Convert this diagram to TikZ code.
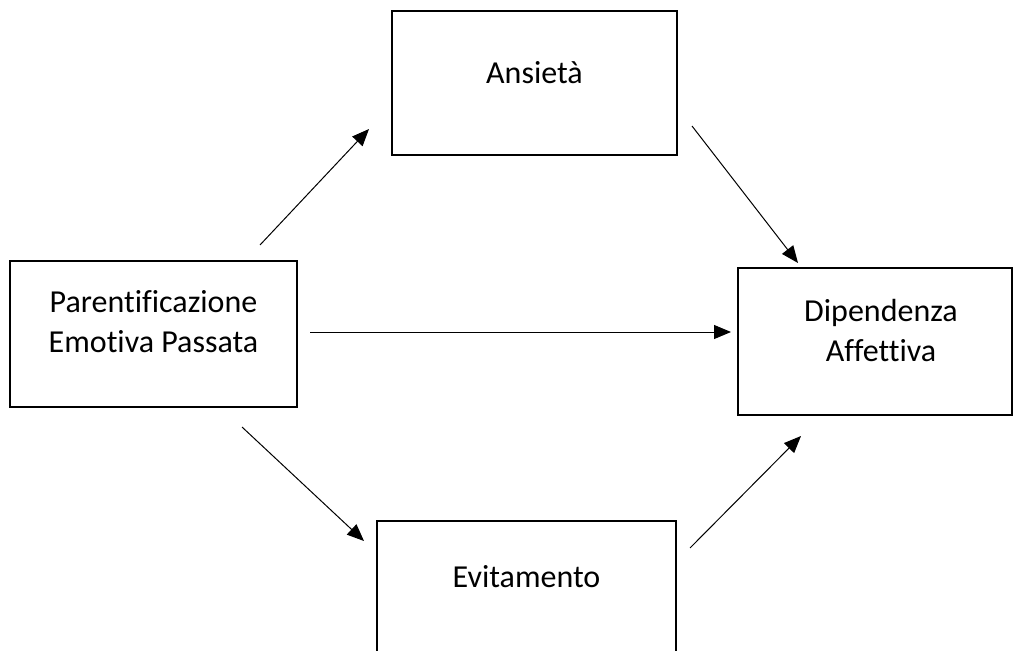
\documentclass[tikz,border=0pt]{standalone}
\usepackage{fontspec}
\setmainfont[Ligatures=NoCommon]{Carlito}
\usetikzlibrary{arrows.meta}
\begin{document}
\begin{tikzpicture}[x=1pt,y=-1pt,
  box/.style={draw=black,line width=2.2pt,fill=white,inner sep=0pt},
  lbl/.style={font=\fontsize{32}{40}\selectfont,align=center,inner sep=0pt},
  conn/.style={line width=1pt,-{Triangle[length=17pt,width=14pt]}}]
\useasboundingbox (0,0) rectangle (1016,650);
\clip (0,0) rectangle (1016,650);
\fill[white] (0,0) rectangle (1016,650);
% boxes
\node[box,minimum width=285pt,minimum height=144pt] (ans) at (534.5,83) {};
\node[box,minimum width=287pt,minimum height=146pt] (par) at (153.5,334) {};
\node[box,minimum width=274pt,minimum height=147pt] (dip) at (875,341.5) {};
\node[box,minimum width=299pt,minimum height=160pt] (evi) at (526.5,601) {};
% labels
\node[lbl] (ansT) at (534.5,73) {Ansietà};
\node[lbl] (parT) at (153.5,322) {Parentificazione\\Emotiva Passata};
\node[lbl] (dipT) at (881,331) {Dipendenza\\Affettiva};
\node[lbl] (eviT) at (526.5,577) {Evitamento};
% connector end points
\coordinate (a1) at (260,245);
\coordinate (a2) at (369,129);
\coordinate (b1) at (692,126);
\coordinate (b2) at (798,263);
\coordinate (c1) at (310,332);
\coordinate (c2) at (731,332);
\coordinate (d1) at (242,427);
\coordinate (d2) at (364,541);
\coordinate (e1) at (690,548);
\coordinate (e2) at (801,436);
\draw[conn] (a1) -- (a2);
\draw[conn] (b1) -- (b2);
\draw[conn] (c1) -- (c2);
\draw[conn] (d1) -- (d2);
\draw[conn] (e1) -- (e2);
\end{tikzpicture}
\end{document}
